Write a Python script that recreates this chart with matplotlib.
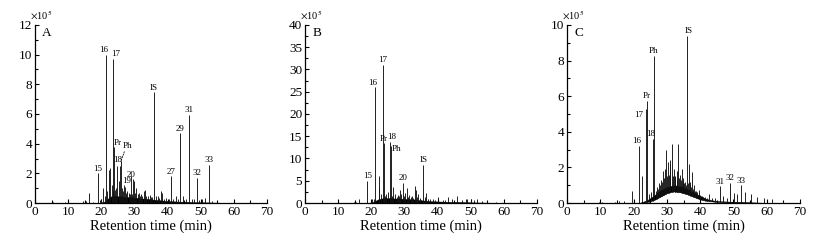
import matplotlib
matplotlib.use("Agg")
import matplotlib.pyplot as plt
import numpy as np
from matplotlib.ticker import MultipleLocator

plt.rcParams["font.family"] = ["Liberation Serif", "DejaVu Serif"]
plt.rcParams["mathtext.fontset"] = "stix"

# intensities are in units of 1e5, retention times in min

# ---- panel A ----
A_LABELS = ["15", "16", "17", "Pr", "18", "Ph", "19", "20", "IS", "27", "29", "31", "32", "33"]
A_LABEL_T = [18.9, 21.4, 23.6, 23.9, 25.5, 25.9, 26.9, 29.5, 35.9, 41.0, 43.8, 46.4, 48.8, 52.6]
A_LABEL_H = [2.0, 10.0, 9.7, 3.8, 2.5, 2.8, 1.2, 1.6, 7.45, 1.8, 4.7, 5.95, 1.7, 2.55]
A_PEAK_T = [5.5, 9.0, 10.0, 14.5, 15.3, 16.4, 17.5, 19.5, 20.0, 20.6, 21.0, 21.8, 22.2, 22.6,
            23.1, 23.4, 24.1, 24.4, 24.8, 25.2, 26.2, 26.6, 27.3, 27.6, 27.8, 28.3, 28.6,
            28.9, 29.2, 29.9, 30.2, 30.6, 31.0, 31.3, 31.7, 32.1, 32.4, 32.8, 33.2, 33.6,
            34.0, 34.6, 35.0, 35.3, 36.4, 37.0, 37.5, 38.0, 38.4, 39.0, 39.6, 40.3, 41.6,
            42.5, 43.2, 44.8, 45.6, 47.3, 48.0, 49.5, 50.3, 51.2, 53.5, 55.0]
A_PEAK_H = [0.05, 0.1, 0.1, 0.15, 0.12, 0.65, 0.1, 0.2, 0.3, 1.0, 0.5, 0.8, 2.2, 2.35,
            1.2, 0.8, 0.9, 1.0, 2.5, 1.5, 1.0, 0.8, 1.1, 0.7, 0.8, 0.7, 0.6,
            1.8, 0.6, 1.5, 0.7, 1.0, 0.6, 0.7, 0.5, 0.6, 0.5, 0.8, 0.9, 0.5,
            0.5, 0.55, 0.4, 0.4, 0.45, 0.5, 0.35, 0.8, 0.7, 0.3, 0.35, 0.3, 0.3,
            0.45, 0.25, 0.5, 0.3, 0.3, 0.25, 0.2, 0.25, 0.35, 0.15, 0.1]
A_BAND_T = [19, 20, 21, 22, 23, 24, 25, 26, 27, 28, 29, 30, 31, 32, 33, 34, 35, 36, 37, 38,
            39, 40, 42, 44, 46, 48, 50, 52, 54, 56, 58, 60]
A_BAND_LO = [0] * len(A_BAND_T)
A_BAND_HI = [0, 0.04, 0.1, 0.3, 0.45, 0.5, 0.45, 0.45, 0.4, 0.4, 0.4, 0.35, 0.35, 0.3, 0.3,
             0.28, 0.25, 0.22, 0.2, 0.18, 0.15, 0.14, 0.11, 0.09, 0.08, 0.06, 0.05, 0.04,
             0.03, 0.02, 0.01, 0]

# ---- panel B ----
B_LABELS = ["15", "16", "17", "Pr", "18", "Ph", "20", "IS"]
B_LABEL_T = [18.8, 21.2, 23.5, 23.7, 25.5, 25.9, 29.5, 35.7]
B_LABEL_H = [5.0, 26.0, 31.0, 13.4, 13.8, 12.7, 4.5, 8.6]
B_PEAK_T = [5.0, 9.9, 14.8, 15.5, 16.4, 19.8, 20.2, 20.8, 22.2, 22.4, 23.0, 24.2, 24.5,
            24.9, 26.1, 26.5, 27.3, 27.7, 28.0, 28.4, 28.7, 29.1, 29.9, 30.3, 30.7, 31.1,
            31.5, 31.9, 32.3, 32.7, 33.1, 33.4, 33.8, 34.2, 34.7, 36.1, 36.6, 37.2, 37.8,
            38.5, 39.3, 40.2, 41.5, 42.2, 43.0, 44.5, 46.0, 47.3, 48.6, 49.0, 50.2, 51.0,
            52.0, 53.5, 55.0, 57.5, 60.0]
B_PEAK_H = [0.2, 0.2, 0.3, 0.2, 0.9, 0.5, 0.8, 1.0, 6.0, 3.3, 2.0, 1.5, 2.0,
            2.5, 1.6, 3.5, 2.0, 1.4, 1.8, 1.5, 3.0, 2.0, 1.5, 2.2, 3.4, 1.4,
            1.8, 1.3, 1.5, 1.2, 3.8, 3.0, 1.3, 2.0, 1.2, 1.3, 2.3, 1.0, 0.9,
            0.8, 0.7, 1.3, 0.7, 0.6, 1.3, 0.8, 1.5, 0.6, 0.8, 1.0, 0.8, 0.7,
            0.8, 0.5, 0.4, 0.3, 0.3]
B_BAND_T = [19, 20, 21, 22, 23, 24, 25, 26, 27, 28, 29, 30, 31, 32, 33, 34, 35, 36, 37, 38,
            40, 42, 44, 46, 48, 50, 52, 55, 58, 62]
B_BAND_LO = [0] * len(B_BAND_T)
B_BAND_HI = [0, 0.15, 0.4, 0.8, 1.0, 1.1, 1.1, 1.1, 1.0, 1.0, 1.0, 0.9, 0.9, 0.85, 0.8, 0.7,
             0.6, 0.55, 0.5, 0.4, 0.35, 0.3, 0.25, 0.25, 0.2, 0.15, 0.12, 0.08, 0.04, 0]

# ---- panel C ----
C_LABELS = ["16", "17", "Pr", "18", "Ph", "IS", "31", "32", "33"]
C_LABEL_T = [21.5, 23.6, 23.9, 25.8, 26.1, 36.0, 45.9, 49.0, 52.3]
C_LABEL_H = [3.2, 5.3, 5.75, 3.6, 8.25, 9.4, 0.93, 1.15, 1.0]
C_PEAK_T = [5.0, 9.5, 10.5, 14.5, 15.5, 17.0, 19.6, 22.6, 24.5, 25.2, 26.6, 27.0, 27.3,
            27.6, 27.9, 28.2, 28.5, 28.8, 29.1, 29.4, 29.8, 30.1, 30.3, 30.6, 30.8, 31.0,
            31.4, 31.7, 32.0, 32.3, 32.5, 32.9, 33.1, 33.4, 33.7, 33.9, 34.2, 34.4, 34.7,
            34.9, 35.2, 35.4, 35.7, 36.3, 36.6, 36.9, 37.1, 37.4, 37.6, 37.9, 38.2, 38.5,
            38.8, 39.2, 39.6, 40.0, 40.5, 41.0, 41.5, 42.2, 42.8, 43.6, 44.5, 47.0, 48.0,
            50.3, 51.2, 53.5, 55.2, 57.0, 59.3, 61.5, 64.8]
C_PEAK_H = [0.05, 0.05, 0.05, 0.05, 0.1, 0.1, 0.65, 1.5, 0.5, 0.6, 0.7, 0.9, 0.8,
            1.1, 1.0, 1.3, 1.2, 1.8, 1.4, 1.9, 3.0, 1.5, 2.3, 1.6, 2.2, 2.4,
            3.3, 1.5, 1.9, 1.4, 1.5, 1.8, 1.3, 3.3, 1.4, 1.6, 1.3, 1.9, 1.2,
            1.4, 1.1, 1.2, 1.0, 1.1, 2.2, 1.0, 1.2, 0.9, 1.75, 0.8, 1.0, 0.7,
            0.7, 0.6, 0.75, 0.45, 0.4, 0.35, 0.35, 0.3, 0.5, 0.3, 0.3, 0.4, 0.3,
            0.55, 0.5, 0.6, 0.5, 0.35, 0.3, 0.2, 0.12]
C_BAND_T = [22, 24, 26, 28, 30, 32, 34, 36, 38, 40, 42, 44, 46, 50, 55, 60]
C_BAND_LO = [0, 0.05, 0.15, 0.35, 0.55, 0.65, 0.6, 0.5, 0.35, 0.2, 0.12, 0.08, 0.05, 0.03, 0.02, 0]
C_BAND_HI = [0.02, 0.15, 0.4, 0.7, 0.9, 1.0, 0.95, 0.8, 0.6, 0.4, 0.22, 0.14, 0.1, 0.07, 0.04, 0.01]

# label nudges in points: (dx, dy, ha, va, dotted leader)
DEFAULT_NUDGE = (0, 0.5, "center", "bottom", False)
NUDGE_A = {"16": (-1.5, 0.5, "center", "bottom", False),
           "17": (1.5, 0.5, "center", "bottom", False),
           "Pr": (2.5, 0, "center", "bottom", False),
           "18": (-1.5, 1.5, "center", "bottom", False),
           "Ph": (5, 11, "center", "center", True),
           "19": (2, 0, "center", "bottom", False),
           "20": (-1.5, 0.5, "center", "bottom", False)}
NUDGE_B = {"16": (-1.5, 0.5, "center", "bottom", False),
           "18": (1.5, 0.5, "center", "bottom", False),
           "Ph": (1, -2, "left", "center", False)}
NUDGE_C = {"16": (-1.5, 0.5, "center", "bottom", False),
           "17": (-2, -4.5, "right", "center", False),
           "18": (-1.5, 0.5, "center", "bottom", False),
           "IS": (1.5, 0.5, "center", "bottom", False)}


def draw_panel(ax, letter, ymax, ystep, label_t, label_h, labels, peak_t, peak_h,
               band_t, band_lo, band_hi, nudges):
    ax.fill_between(band_t, band_lo, band_hi, color="black", lw=0.3, zorder=2)
    all_t = np.array(list(peak_t) + list(label_t))
    all_h = np.array(list(peak_h) + list(label_h))
    foot = np.interp(all_t, band_t, band_lo, left=0, right=0)
    ax.vlines(all_t, foot, all_h, color="#111111", lw=0.65, zorder=3)

    for name, t, h in zip(labels, label_t, label_h):
        dx, dy, ha, va, leader = nudges.get(name, DEFAULT_NUDGE)
        ax.annotate(name, (t, h), xytext=(dx, dy), textcoords="offset points",
                    ha=ha, va=va, fontsize=6.5, zorder=4)
        if leader:
            ax.annotate("", (t, h), xytext=(dx * 0.5, dy - 4), textcoords="offset points",
                        arrowprops=dict(arrowstyle="-", lw=0.6, ls=(0, (1.5, 1.5)),
                                        color="black", shrinkA=0, shrinkB=0))

    ax.set_xlim(0, 70)
    ax.set_ylim(0, ymax)
    ax.xaxis.set_major_locator(MultipleLocator(10))
    ax.xaxis.set_minor_locator(MultipleLocator(5))
    ax.yaxis.set_major_locator(MultipleLocator(ystep))
    ax.yaxis.set_minor_locator(MultipleLocator(ystep / 2))
    ax.tick_params(which="both", direction="in", width=0.8, labelsize=9.5, pad=2)
    ax.tick_params(which="major", length=3)
    ax.tick_params(which="minor", length=2)
    ax.spines[["top", "right"]].set_visible(False)
    for s in ("left", "bottom"):
        ax.spines[s].set_linewidth(0.9)
    ax.set_xlabel("Retention time (min)", fontsize=10.5, labelpad=1)
    ax.text(-0.02, 1.015, r"$\times$10$^5$", transform=ax.transAxes, ha="left",
            va="bottom", fontsize=7.5)
    ax.text(0.05, 0.955, letter, transform=ax.transAxes, ha="center", va="center",
            fontsize=9.5)


fig = plt.figure(figsize=(8.3, 2.45), dpi=100)
ax_a = fig.add_axes([35 / 830, 42 / 245, 232 / 830, 178 / 245])
ax_b = fig.add_axes([305 / 830, 42 / 245, 232 / 830, 178 / 245])
ax_c = fig.add_axes([567 / 830, 42 / 245, 233 / 830, 178 / 245])

draw_panel(ax_a, "A", 12, 2, A_LABEL_T, A_LABEL_H, A_LABELS, A_PEAK_T, A_PEAK_H,
           A_BAND_T, A_BAND_LO, A_BAND_HI, NUDGE_A)
draw_panel(ax_b, "B", 40, 5, B_LABEL_T, B_LABEL_H, B_LABELS, B_PEAK_T, B_PEAK_H,
           B_BAND_T, B_BAND_LO, B_BAND_HI, NUDGE_B)
draw_panel(ax_c, "C", 10, 2, C_LABEL_T, C_LABEL_H, C_LABELS, C_PEAK_T, C_PEAK_H,
           C_BAND_T, C_BAND_LO, C_BAND_HI, NUDGE_C)

fig.savefig("out.png", dpi=100)
